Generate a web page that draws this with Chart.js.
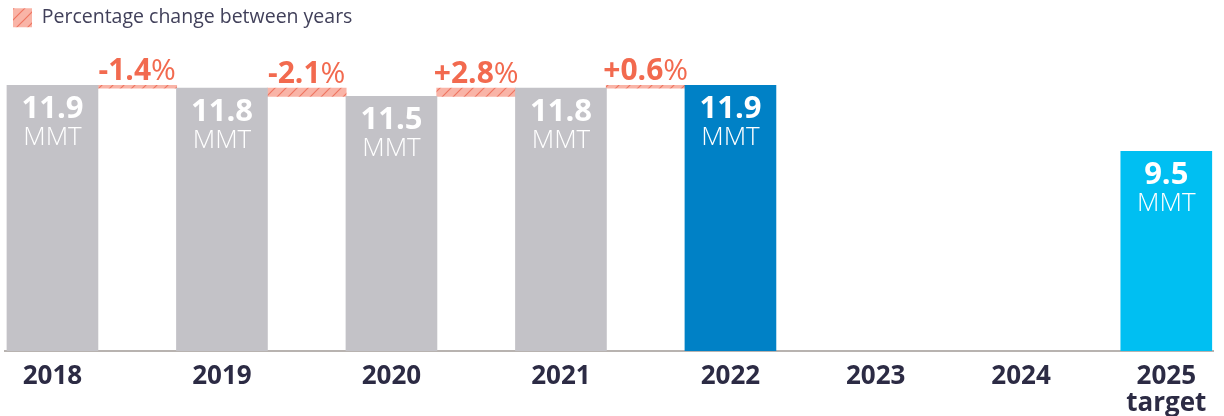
<!DOCTYPE html>
<html>
<head>
<meta charset="utf-8">
<script src="https://cdn.jsdelivr.net/npm/chart.js@4.4.1/dist/chart.umd.min.js"></script>
<style>
  html, body { margin: 0; padding: 0; background: #ffffff; }
  #wrap { width: 1224px; height: 416px; }
</style>
</head>
<body>
<div id="wrap"><canvas id="chart"></canvas></div>
<script>
/* --------------- Data --------------- */
const years = ["2018", "2019", "2020", "2021", "2022", "2023", "2024", ["2025", "target"]];
const emissions = [11.9, 11.8, 11.5, 11.8, 11.9, null, null, 9.5];   // MMT
const changes = [-1.4, -2.1, 2.8, 0.6];                              // % between consecutive years

/* --------------- Colors --------------- */
const barColors = ["#c3c2c7", "#c3c2c7", "#c3c2c7", "#c3c2c7", "#0081c6", null, null, "#00bff2"];
const salmon = "#f26a4f";
const FONT = "'Open Sans', 'Lato', sans-serif";

// years after 2022 sit a little closer together (6/7 of the usual step)
const slot = (i) => (i <= 4 ? i : 4 + (i - 4) * 6 / 7);

/* --------------- Hatch pattern for the change boxes --------------- */
function makeHatch() {
  const c = document.createElement("canvas");
  c.width = 11;
  c.height = 11;
  const g = c.getContext("2d");
  g.fillStyle = "#f9b4a7";
  g.fillRect(0, 0, 11, 11);
  g.strokeStyle = "#ef7561";
  g.lineWidth = 1.2;
  g.beginPath();
  g.moveTo(-1, 12); g.lineTo(12, -1);
  g.moveTo(-1, 1); g.lineTo(1, -1);
  g.moveTo(10, 12); g.lineTo(12, 10);
  g.stroke();
  return g.createPattern(c, "repeat");
}
const hatch = makeHatch();

const valuePoints = emissions.map((v, i) => ({ x: slot(i), y: v }));
const changePoints = changes.map((c, i) => ({
  x: slot(i) + 0.5,
  y: [Math.min(emissions[i], emissions[i + 1]), Math.max(emissions[i], emissions[i + 1])],
}));

/* --------------- Labels on the bars and above the boxes --------------- */
const labelPlugin = {
  id: "barLabels",
  afterDatasetsDraw(chart) {
    const ctx = chart.ctx;
    ctx.save();
    ctx.textBaseline = "alphabetic";
    ctx.textAlign = "center";
    chart.getDatasetMeta(0).data.forEach((bar, i) => {
      if (emissions[i] == null) return;
      ctx.fillStyle = "#ffffff";
      ctx.font = "bold 31px " + FONT;
      ctx.fillText(emissions[i].toFixed(1), bar.x, bar.y + 33);
      ctx.font = "300 26px " + FONT;
      ctx.fillText("MMT", bar.x, bar.y + 60);
    });
    ctx.textAlign = "left";
    ctx.fillStyle = salmon;
    chart.getDatasetMeta(1).data.forEach((box, i) => {
      const num = (changes[i] > 0 ? "+" : "-") + Math.abs(changes[i]).toFixed(1);
      ctx.font = "bold 30px " + FONT;
      const w1 = ctx.measureText(num).width;
      ctx.font = "400 30px " + FONT;
      const w2 = ctx.measureText("%").width;
      const left = box.x - (w1 + w2) / 2;
      const top = Math.min(box.y, box.base) - 5;
      ctx.font = "bold 30px " + FONT;
      ctx.fillText(num, left, top);
      ctx.font = "400 30px " + FONT;
      ctx.fillText("%", left + w1, top);
    });
    ctx.restore();
  },
};

/* --------------- Chart --------------- */
new Chart(document.getElementById("chart"), {
  type: "bar",
  plugins: [labelPlugin],
  data: {
    datasets: [
      {
        label: "Emissions",
        data: valuePoints,
        backgroundColor: barColors,
        borderWidth: 0,
        barThickness: 91,
        grouped: false,
      },
      {
        label: "Percentage change between years",
        data: changePoints,
        backgroundColor: hatch,
        borderWidth: 0,
        barThickness: 79,
        grouped: false,
      },
    ],
  },
  options: {
    responsive: true,
    maintainAspectRatio: false,
    animation: false,
    layout: { padding: { left: 5, right: 11, top: 0, bottom: 0 } },
    plugins: {
      tooltip: { enabled: false },
      legend: {
        position: "top",
        align: "start",
        labels: {
          filter: (item) => item.datasetIndex === 1,
          boxWidth: 19,
          boxHeight: 19,
          padding: 8,
          color: "#41405a",
          font: { family: FONT, size: 19.5 },
        },
      },
    },
    scales: {
      x: {
        type: "linear",
        offset: false,
        min: -0.28,
        max: 6.847,
        z: 1,
        grid: { display: false, drawTicks: false },
        border: { display: true, color: "#b8b3b0", width: 2 },
        afterBuildTicks: (scale) => {
          scale.ticks = years.map((_, i) => ({ value: slot(i) }));
        },
        afterFit: (scale) => {
          scale.height = 65;
        },
        ticks: {
          autoSkip: false,
          maxRotation: 0,
          padding: 12,
          color: "#2c2b44",
          font: { family: FONT, size: 26, weight: "bold", lineHeight: 1.04 },
          callback: (value, index) => years[index],
        },
      },
      y: {
        display: false,
        min: 2.24,
        max: 13.64,
      },
    },
  },
});
</script>
</body>
</html>
